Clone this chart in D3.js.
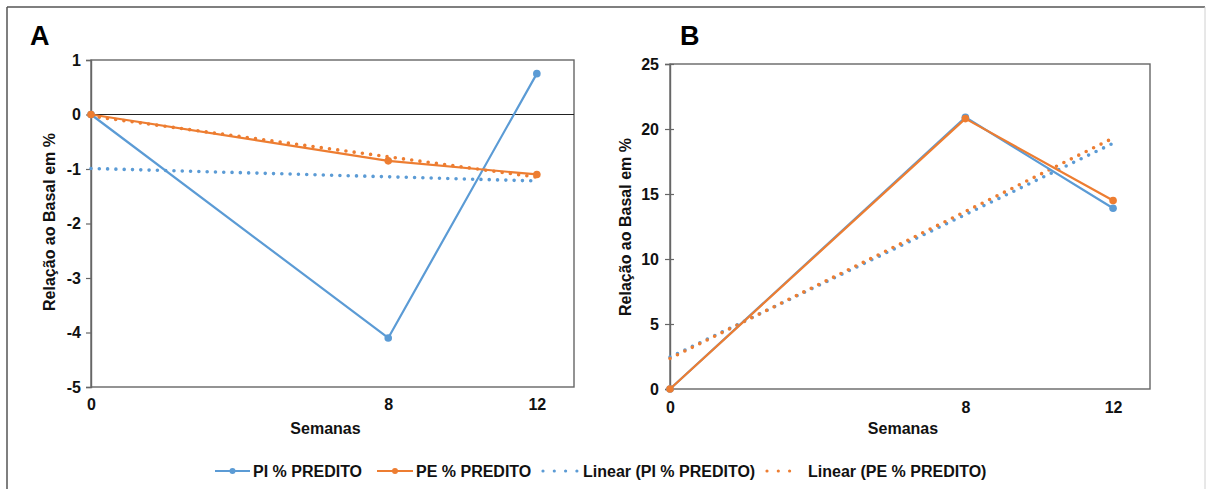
<!DOCTYPE html>
<html>
<head>
<meta charset="utf-8">
<script src="https://cdn.jsdelivr.net/npm/d3@7"></script>
<style>
  html, body { margin: 0; padding: 0; background: #fff; }
  svg { display: block; font-family: "Liberation Sans", Arial, sans-serif; }
</style>
</head>
<body>
<svg id="chart" width="1206" height="489"></svg>
<script>
// Weeks of follow-up
const weeks = [0, 8, 12];
const weekTicks = [0, 8, 12];
const trendWeeks = [0, 12];

// Panel A: change relative to baseline (%)
const piA = [0, -4.1, 0.75];
const peA = [0, -0.85, -1.1];
const piTrendA = [-0.99, -1.22];
const peTrendA = [-0.03, -1.15];
const ticksA = [-5, -4, -3, -2, -1, 0, 1];

// Panel B: change relative to baseline (%)
const piB = [0, 20.9, 13.9];
const peB = [0, 20.8, 14.5];
const piTrendB = [2.45, 18.9];
const peTrendB = [2.35, 19.3];
const ticksB = [0, 5, 10, 15, 20, 25];

const seriesNames = ["PI % PREDITO", "PE % PREDITO", "Linear (PI % PREDITO)", "Linear (PE % PREDITO)"];

const BLUE = "#5b9bd5";
const ORANGE = "#ed7d31";
const FRAME = "#666";

const svg = d3.select("#chart");

// outer border
svg.append("line").attr("x1", 7).attr("x2", 1205).attr("y1", 7).attr("y2", 7)
  .attr("stroke", "#555").attr("stroke-width", 1.5);
svg.append("line").attr("x1", 7).attr("x2", 7).attr("y1", 7).attr("y2", 489)
  .attr("stroke", "#555").attr("stroke-width", 1.5);
svg.append("line").attr("x1", 1205).attr("x2", 1205).attr("y1", 7).attr("y2", 489)
  .attr("stroke", "#d0d0d0").attr("stroke-width", 1);

function panel(opts) {
  const { letter, letterX, left, right, top, bottom, domainY, yTicks,
          pi, pe, piTrend, peTrend, crossTicks, zeroLine, xLabelY, ylabelX, ylabelY } = opts;
  const g = svg.append("g");
  const x = d3.scaleLinear().domain([0, 13]).range([left, right]);
  const y = d3.scaleLinear().domain(domainY).range([bottom, top]);

  // plot frame
  g.append("rect").attr("x", left).attr("y", top)
    .attr("width", right - left).attr("height", bottom - top)
    .attr("fill", "none").attr("stroke", FRAME).attr("stroke-width", 1.4);

  if (zeroLine) {
    g.append("line").attr("x1", left).attr("x2", right)
      .attr("y1", y(0)).attr("y2", y(0))
      .attr("stroke", "#222").attr("stroke-width", 1.1);
  }

  // y axis
  const yAxis = g.append("g").attr("transform", `translate(${left},0)`)
    .call(d3.axisLeft(y).tickValues(yTicks).tickSize(5).tickPadding(crossTicks ? 6 : 5)
      .tickFormat(d => String(d)));
  yAxis.select(".domain").attr("stroke", FRAME).attr("stroke-width", 1.4);
  yAxis.selectAll(".tick line").attr("stroke", FRAME).attr("stroke-width", 1.2);
  yAxis.selectAll(".tick text").attr("font-size", 16).attr("font-weight", "bold")
    .attr("fill", "#111");
  if (crossTicks) {
    const inner = g.append("g").attr("transform", `translate(${left},0)`)
      .call(d3.axisRight(y).tickValues(yTicks).tickSize(4).tickFormat(""));
    inner.select(".domain").remove();
    inner.selectAll(".tick line").attr("stroke", FRAME).attr("stroke-width", 1.2);
  }

  // x axis labels
  const xAxis = g.append("g").attr("transform", `translate(0,${xLabelY})`)
    .call(d3.axisBottom(x).tickValues(weekTicks).tickSize(0).tickPadding(0)
      .tickFormat(d => String(d)));
  xAxis.select(".domain").remove();
  xAxis.selectAll(".tick text").attr("font-size", 16).attr("font-weight", "bold")
    .attr("fill", "#111").attr("dy", "0.32em").attr("y", 0);

  // axis titles
  g.append("text").attr("x", (left + right) / 2 - 7).attr("y", 434)
    .attr("text-anchor", "middle").attr("font-size", 16).attr("font-weight", "bold")
    .attr("fill", "#111").text("Semanas");
  g.append("text")
    .attr("transform", `translate(${ylabelX},${ylabelY}) rotate(-90)`)
    .attr("text-anchor", "middle").attr("dy", "0.35em")
    .attr("font-size", 16).attr("font-weight", "bold").attr("fill", "#111")
    .text("Relação ao Basal em %");

  g.append("text").attr("x", letterX).attr("y", 45)
    .attr("font-size", 27).attr("font-weight", "bold").attr("fill", "#000")
    .text(letter);

  const line = d3.line().x(d => x(d[0])).y(d => y(d[1]));

  // linear trend lines
  [[piTrend, BLUE], [peTrend, ORANGE]].forEach(([vals, color]) => {
    const pts = trendWeeks.map((w, i) => [w, vals[i]]);
    g.append("path").datum(pts).attr("d", line)
      .attr("fill", "none").attr("stroke", color).attr("stroke-width", 3.6)
      .attr("stroke-linecap", "round").attr("stroke-dasharray", "0 8.3");
  });

  // series
  [[pi, BLUE], [pe, ORANGE]].forEach(([vals, color]) => {
    const pts = weeks.map((w, i) => [w, vals[i]]);
    g.append("path").datum(pts).attr("d", line)
      .attr("fill", "none").attr("stroke", color).attr("stroke-width", 2.2)
      .attr("stroke-linejoin", "round");
    g.selectAll(null).data(pts).enter().append("circle")
      .attr("cx", d => x(d[0])).attr("cy", d => y(d[1])).attr("r", 3.8)
      .attr("fill", color);
  });
}

panel({
  letter: "A", letterX: 30, left: 91, right: 574, top: 60, bottom: 387,
  domainY: [-5, 1], yTicks: ticksA, pi: piA, pe: peA,
  piTrend: piTrendA, peTrend: peTrendA, crossTicks: false, zeroLine: true,
  xLabelY: 405, ylabelX: 49, ylabelY: 222
});

panel({
  letter: "B", letterX: 680, left: 670, right: 1150, top: 64, bottom: 389,
  domainY: [0, 25], yTicks: ticksB, pi: piB, pe: peB,
  piTrend: piTrendB, peTrend: peTrendB, crossTicks: true, zeroLine: false,
  xLabelY: 408, ylabelX: 625, ylabelY: 227
});

// legend
const legendItems = [
  { name: seriesNames[0], color: BLUE, dotted: false, x0: 215, x1: 250, tx: 253 },
  { name: seriesNames[1], color: ORANGE, dotted: false, x0: 377, x1: 413, tx: 416 },
  { name: seriesNames[2], color: BLUE, dotted: true, x0: 543, x1: 578, tx: 583 },
  { name: seriesNames[3], color: ORANGE, dotted: true, x0: 767, x1: 800, tx: 808 }
];
const lg = svg.append("g");
legendItems.forEach(it => {
  const ly = 471;
  if (it.dotted) {
    lg.append("line").attr("x1", it.x0).attr("x2", it.x1).attr("y1", ly).attr("y2", ly)
      .attr("stroke", it.color).attr("stroke-width", 3.2).attr("stroke-linecap", "round")
      .attr("stroke-dasharray", "0 11.3");
  } else {
    lg.append("line").attr("x1", it.x0).attr("x2", it.x1).attr("y1", ly).attr("y2", ly)
      .attr("stroke", it.color).attr("stroke-width", 2.2);
    lg.append("circle").attr("cx", (it.x0 + it.x1) / 2).attr("cy", ly).attr("r", 3)
      .attr("fill", it.color);
  }
  lg.append("text").attr("x", it.tx).attr("y", 477)
    .attr("font-size", 16).attr("font-weight", "bold").attr("fill", "#111")
    .text(it.name);
});
</script>
</body>
</html>
